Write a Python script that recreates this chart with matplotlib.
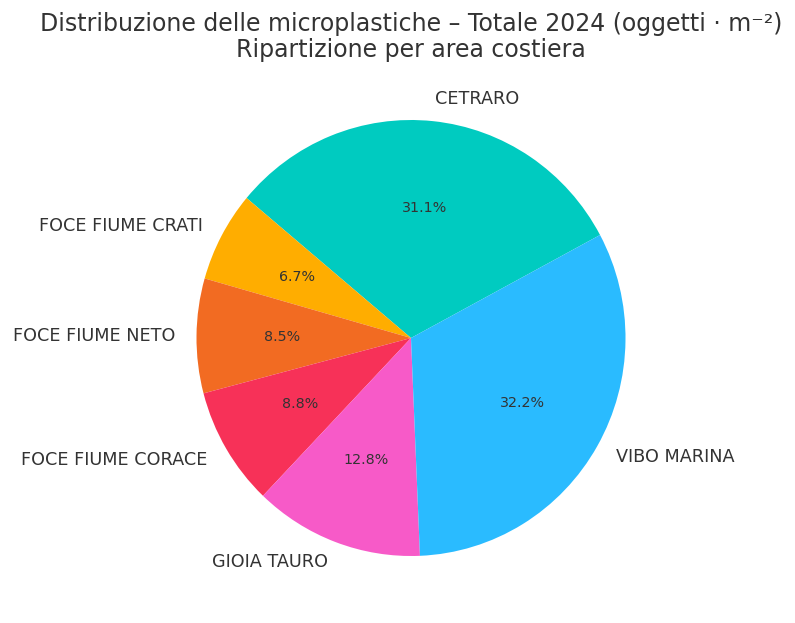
import matplotlib.pyplot as plt

# dati: quota percentuale per area costiera
aree = ['CETRARO', 'FOCE FIUME CRATI', 'FOCE FIUME NETO',
        'FOCE FIUME CORACE', 'GIOIA TAURO', 'VIBO MARINA']
quote = [31.1, 6.7, 8.5, 8.8, 12.8, 32.2]
colori = ['#00CBC0', '#FFAD00', '#F26B22', '#F73158', '#F75AC8', '#2ABBFF']

plt.rcParams['font.family'] = ['DejaVu Sans']
W, H = 795, 623
fig = plt.figure(figsize=(W / 100, H / 100), dpi=100)

# posizione della torta in pixel (leggermente più alta che larga)
cx, cy, rx, ry = 411, 623 - 338, 214.5, 218
ax = fig.add_axes([(cx - rx) / W, (cy - ry) / H, 2 * rx / W, 2 * ry / H])

wedges, testi, pct = ax.pie(quote, labels=aree, colors=colori,
                            autopct='%1.1f%%', startangle=28.2,
                            counterclock=True,
                            textprops={'color': '#333333', 'fontsize': 12.7})
for t in pct:
    t.set_fontsize(10.3)
ax.set_aspect('auto')
ax.set_xlim(-1, 1)
ax.set_ylim(-1, 1)

fig.text(411 / W, 1 - 37 / H,
         'Distribuzione delle microplastiche – Totale 2024 (oggetti · m⁻²)\n'
         'Ripartizione per area costiera',
         ha='center', va='center', fontsize=17, color='#333333',
         linespacing=1.15)

fig.savefig('out.png', dpi=100)
